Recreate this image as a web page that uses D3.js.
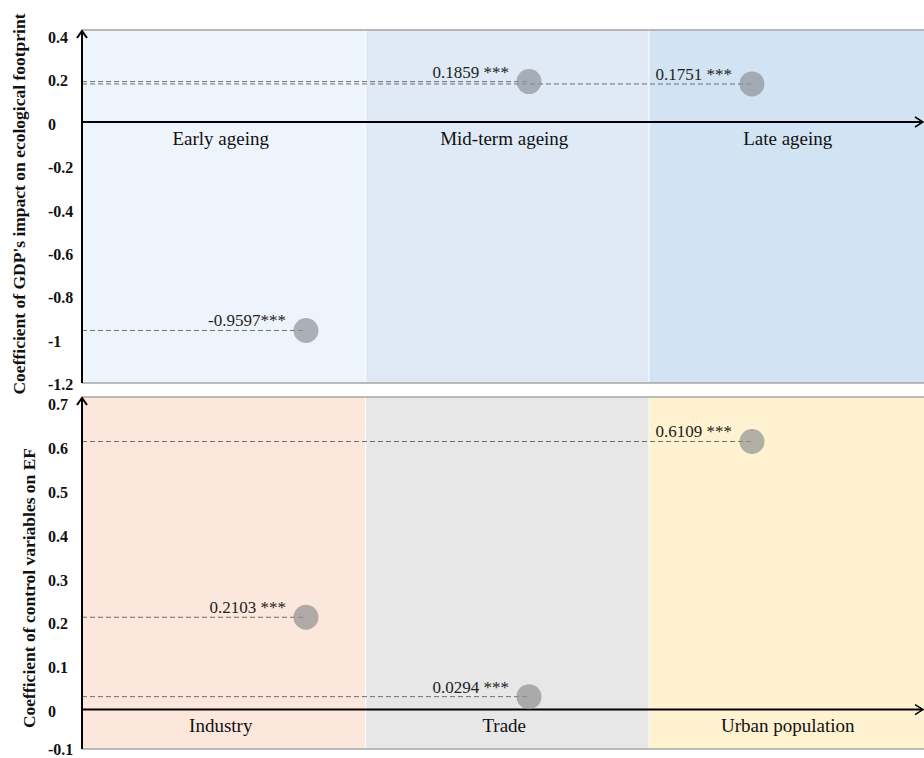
<!DOCTYPE html>
<html>
<head>
<meta charset="utf-8">
<script src="https://cdn.jsdelivr.net/npm/d3@7"></script>
<style>
  html, body { margin: 0; padding: 0; background: #fff; }
  svg { display: block; }
  svg text { font-family: "Liberation Serif", "Times New Roman", serif; }
</style>
</head>
<body>
<svg id="chart" width="924" height="758"></svg>
<script>
// ---- data ----
const topCategories = ["Early ageing", "Mid-term ageing", "Late ageing"];
const topValues = [-0.9597, 0.1859, 0.1751];
const topLabels = ["-0.9597***", "0.1859 ***", "0.1751 ***"];
const topTicks = [0.4, 0.2, 0, -0.2, -0.4, -0.6, -0.8, -1, -1.2];
const topColors = ["#eef4fc", "#dfeaf6", "#d2e3f3"];
const topTitle = "Coefficient of GDP's impact on ecological footprint";

const botCategories = ["Industry", "Trade", "Urban population"];
const botValues = [0.2103, 0.0294, 0.6109];
const botLabels = ["0.2103 ***", "0.0294 ***", "0.6109 ***"];
const botTicks = [0.7, 0.6, 0.5, 0.4, 0.3, 0.2, 0.1, 0, -0.1];
const botColors = ["#fce7dc", "#e7e7e7", "#fef2d0"];
const botTitle = "Coefficient of control variables on EF";

// ---- layout ----
const svg = d3.select("#chart");
const axisX = 82, colW = 283.5;
const xBand = d3.scaleBand().domain([0, 1, 2]).range([axisX, axisX + 3 * colW]).padding(0);
const xPoint = d3.scalePoint().domain([0, 1, 2]).range([306, 752]);

const panels = [
  { cats: topCategories, vals: topValues, labels: topLabels, ticks: topTicks, colors: topColors, title: topTitle,
    domain: [-1.2, 0.4], range: [382.7, 35.1], rectTop: 30, rectBot: 383, titleX: 19, titleY: 204,
    pointFill: "#8f959c" },
  { cats: botCategories, vals: botValues, labels: botLabels, ticks: botTicks, colors: botColors, title: botTitle,
    domain: [-0.1, 0.7], range: [753.4, 402.4], rectTop: 397, rectBot: 749, titleX: 29, titleY: 588,
    pointFill: "#939393" }
];

panels.forEach(p => {
  const y = d3.scaleLinear().domain(p.domain).range(p.range);
  const g = svg.append("g");
  const idx = d3.range(p.cats.length);

  // column backgrounds
  g.selectAll("rect.col").data(idx).join("rect")
    .attr("x", i => xBand(i)).attr("y", p.rectTop)
    .attr("width", xBand.bandwidth()).attr("height", p.rectBot - p.rectTop)
    .attr("fill", i => p.colors[i]);
  // white separators
  g.selectAll("line.sep").data([1, 2]).join("line")
    .attr("x1", i => xBand(i)).attr("x2", i => xBand(i))
    .attr("y1", p.rectTop).attr("y2", p.rectBot)
    .attr("stroke", "#ffffff").attr("stroke-width", 1.2).attr("opacity", 0.8);
  // top/bottom border lines
  g.selectAll("line.border").data([p.rectTop, p.rectBot]).join("line")
    .attr("x1", axisX).attr("x2", 924).attr("y1", d => d).attr("y2", d => d)
    .attr("stroke", "#a6a6a6").attr("stroke-width", 1.5);

  // tick labels (left aligned)
  g.selectAll("text.tick").data(p.ticks).join("text")
    .attr("x", 48).attr("y", d => Math.min(y(d) + 2, 749)).attr("dy", "0.35em")
    .attr("font-size", 16).attr("font-weight", "bold").attr("fill", "#111")
    .text(d => String(d));

  // axis title
  g.append("text")
    .attr("transform", `translate(${p.titleX},${p.titleY}) rotate(-90)`)
    .attr("text-anchor", "middle").attr("dy", "0.35em")
    .attr("font-size", 17.5).attr("font-weight", "bold").attr("fill", "#111")
    .text(p.title);

  // dashed lines
  g.selectAll("line.dash").data(idx).join("line")
    .attr("x1", axisX).attr("x2", i => xPoint(i))
    .attr("y1", i => y(p.vals[i])).attr("y2", i => y(p.vals[i]))
    .attr("stroke", "#6f6f6f").attr("stroke-width", 1).attr("stroke-dasharray", "5,3");

  // zero line with arrow
  const y0 = y(0);
  g.append("line").attr("x1", axisX).attr("x2", 922).attr("y1", y0).attr("y2", y0)
    .attr("stroke", "#000").attr("stroke-width", 2);
  g.append("path").attr("d", `M${915},${y0 - 5}L${923},${y0}L${915},${y0 + 5}`)
    .attr("fill", "none").attr("stroke", "#000").attr("stroke-width", 1.5);

  // y axis with arrow
  g.append("line").attr("x1", axisX).attr("x2", axisX).attr("y1", p.rectBot).attr("y2", p.rectTop + 1)
    .attr("stroke", "#000").attr("stroke-width", 2);
  g.append("path").attr("d", `M${axisX - 5},${p.rectTop + 8}L${axisX},${p.rectTop + 1}L${axisX + 5},${p.rectTop + 8}`)
    .attr("fill", "none").attr("stroke", "#000").attr("stroke-width", 2);

  // category labels
  g.selectAll("text.cat").data(idx).join("text")
    .attr("x", i => xBand(i) + xBand.bandwidth() / 2 - 3).attr("y", y0 + 16).attr("dy", "0.35em")
    .attr("text-anchor", "middle").attr("font-size", 19).attr("fill", "#111")
    .text(i => p.cats[i]);

  // points
  g.selectAll("circle.pt").data(idx).join("circle")
    .attr("cx", i => xPoint(i)).attr("cy", i => y(p.vals[i])).attr("r", 12.5)
    .attr("fill", p.pointFill).attr("fill-opacity", 0.72);

  // value labels
  g.selectAll("text.val").data(idx).join("text")
    .attr("x", i => xPoint(i) - 20).attr("y", i => y(p.vals[i]) - 4)
    .attr("text-anchor", "end").attr("font-size", 17).attr("fill", "#222")
    .text(i => p.labels[i]);
});
</script>
</body>
</html>
